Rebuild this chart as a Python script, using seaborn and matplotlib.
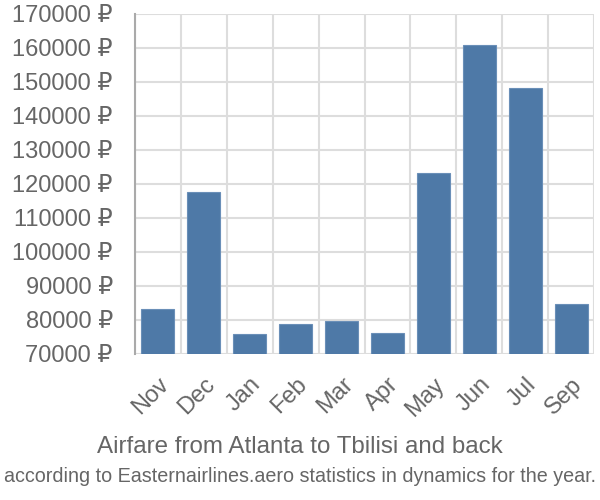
import matplotlib
matplotlib.use("Agg")
import matplotlib.pyplot as plt
import seaborn as sns
import pandas as pd
import numpy as np
from matplotlib.ticker import FixedLocator

months = ["Nov", "Dec", "Jan", "Feb", "Mar", "Apr", "May", "Jun", "Jul", "Sep"]
prices = [83200, 117600, 76000, 78700, 79700, 76100, 123100, 160900, 148100, 84700]
yticks = list(range(70000, 170001, 10000))
title = "Airfare from Atlanta to Tbilisi and back"
subtitle = "according to Easternairlines.aero statistics in dynamics for the year."

sns.set_theme(style="white")
plt.rcParams['font.family'] = ['Liberation Sans', 'DejaVu Sans']

df = pd.DataFrame({"month": months, "price": prices})

fig = plt.figure(figsize=(6, 5), dpi=100)
ax = fig.add_axes([0.225, 0.292, 0.765, 0.68])

grid_c = "#dddddd"
txt_c = "#666666"

sns.barplot(data=df, x="month", y="price", color="#4e79a7", saturation=1,
            width=0.72, ax=ax, edgecolor="#6a8fb8", linewidth=0.8, zorder=3)

ax.set_ylim(70000, 170000)
ax.set_xlim(-0.5, len(months) - 0.5)
ax.set_yticks(yticks)
ax.set_yticklabels([f"{v} ₽" for v in yticks], fontsize=17, color=txt_c)
ax.set_xticks(range(len(months)))
ax.set_xticklabels(months, fontsize=17, color=txt_c, rotation=45,
                   ha="right", rotation_mode="anchor")
ax.xaxis.set_minor_locator(FixedLocator(np.arange(-0.5, len(months), 1.0)))
ax.tick_params(axis="x", which="major", length=0, pad=14)
ax.tick_params(axis="x", which="minor", length=14, width=1.5, color=grid_c)
ax.tick_params(axis="y", which="major", length=14, width=1.5, color=grid_c, pad=2)

ax.grid(True, which="major", axis="y", color=grid_c, linewidth=1.5, zorder=0)
ax.grid(True, which="minor", axis="x", color=grid_c, linewidth=1.5, zorder=0)
ax.set_axisbelow(True)

for s in ["top", "right", "bottom"]:
    ax.spines[s].set_visible(False)
ax.spines["left"].set_color("#aaaaaa")
ax.spines["left"].set_linewidth(1.5)
ax.set_xlabel("")
ax.set_ylabel("")

fig.text(0.5, 0.106, title, ha="center", va="center", fontsize=17.4, color=txt_c)
fig.text(0.5, 0.046, subtitle, ha="center", va="center", fontsize=14.2, color=txt_c)

fig.savefig("out.png", dpi=100)
